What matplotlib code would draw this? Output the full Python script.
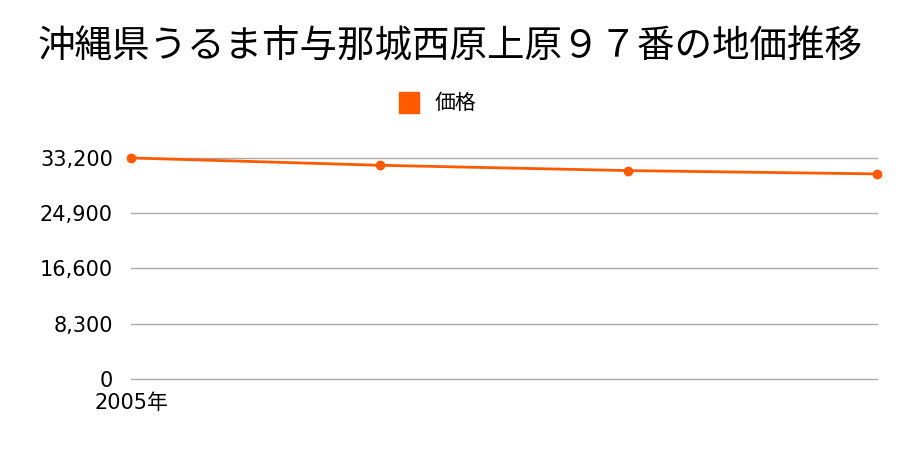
import matplotlib
matplotlib.use('Agg')
import matplotlib.pyplot as plt

plt.rcParams['font.family'] = ['Noto Sans CJK JP', 'DejaVu Sans']

# データ
years = ['2005年', '', '', '']
prices = [33200, 32100, 31300, 30800]
yticks = [0, 8300, 16600, 24900, 33200]

color = '#ff5a00'
num_font = ['DejaVu Sans', 'Noto Sans CJK JP']

fig = plt.figure(figsize=(9, 4.5), dpi=100)
ax = fig.add_axes([0.1456, 0.158, 0.829, 0.491])

x = list(range(len(prices)))
ax.plot(x, prices, color=color, linewidth=2, marker='o', markersize=6,
        clip_on=False, zorder=3, label='価格')

ax.set_xlim(0, len(prices) - 1)
ax.set_ylim(0, 33200)
ax.set_yticks(yticks)
ax.set_yticklabels([f'{v:,}' for v in yticks], fontsize=15, family=num_font)
ax.set_xticks(x)
ax.set_xticklabels(years, fontsize=15, family=num_font)
ax.tick_params(axis='y', length=0, pad=13)
ax.tick_params(axis='x', length=0, pad=10)
for v in yticks:
    ax.axhline(v, color='#aaaaaa', linewidth=1, clip_on=False, zorder=1)
for s in ax.spines.values():
    s.set_visible(False)

fig.text(0.5, 0.895, '沖縄県うるま市与那城西原上原９７番の地価推移',
         ha='center', va='center', fontsize=27)

# 凡例
fig.patches.append(plt.Rectangle((0.443, 0.749), 0.023, 0.047, color=color,
                                 transform=fig.transFigure, figure=fig))
fig.text(0.483, 0.772, '価格', ha='left', va='center', fontsize=15)

fig.savefig('out.png', dpi=100)
